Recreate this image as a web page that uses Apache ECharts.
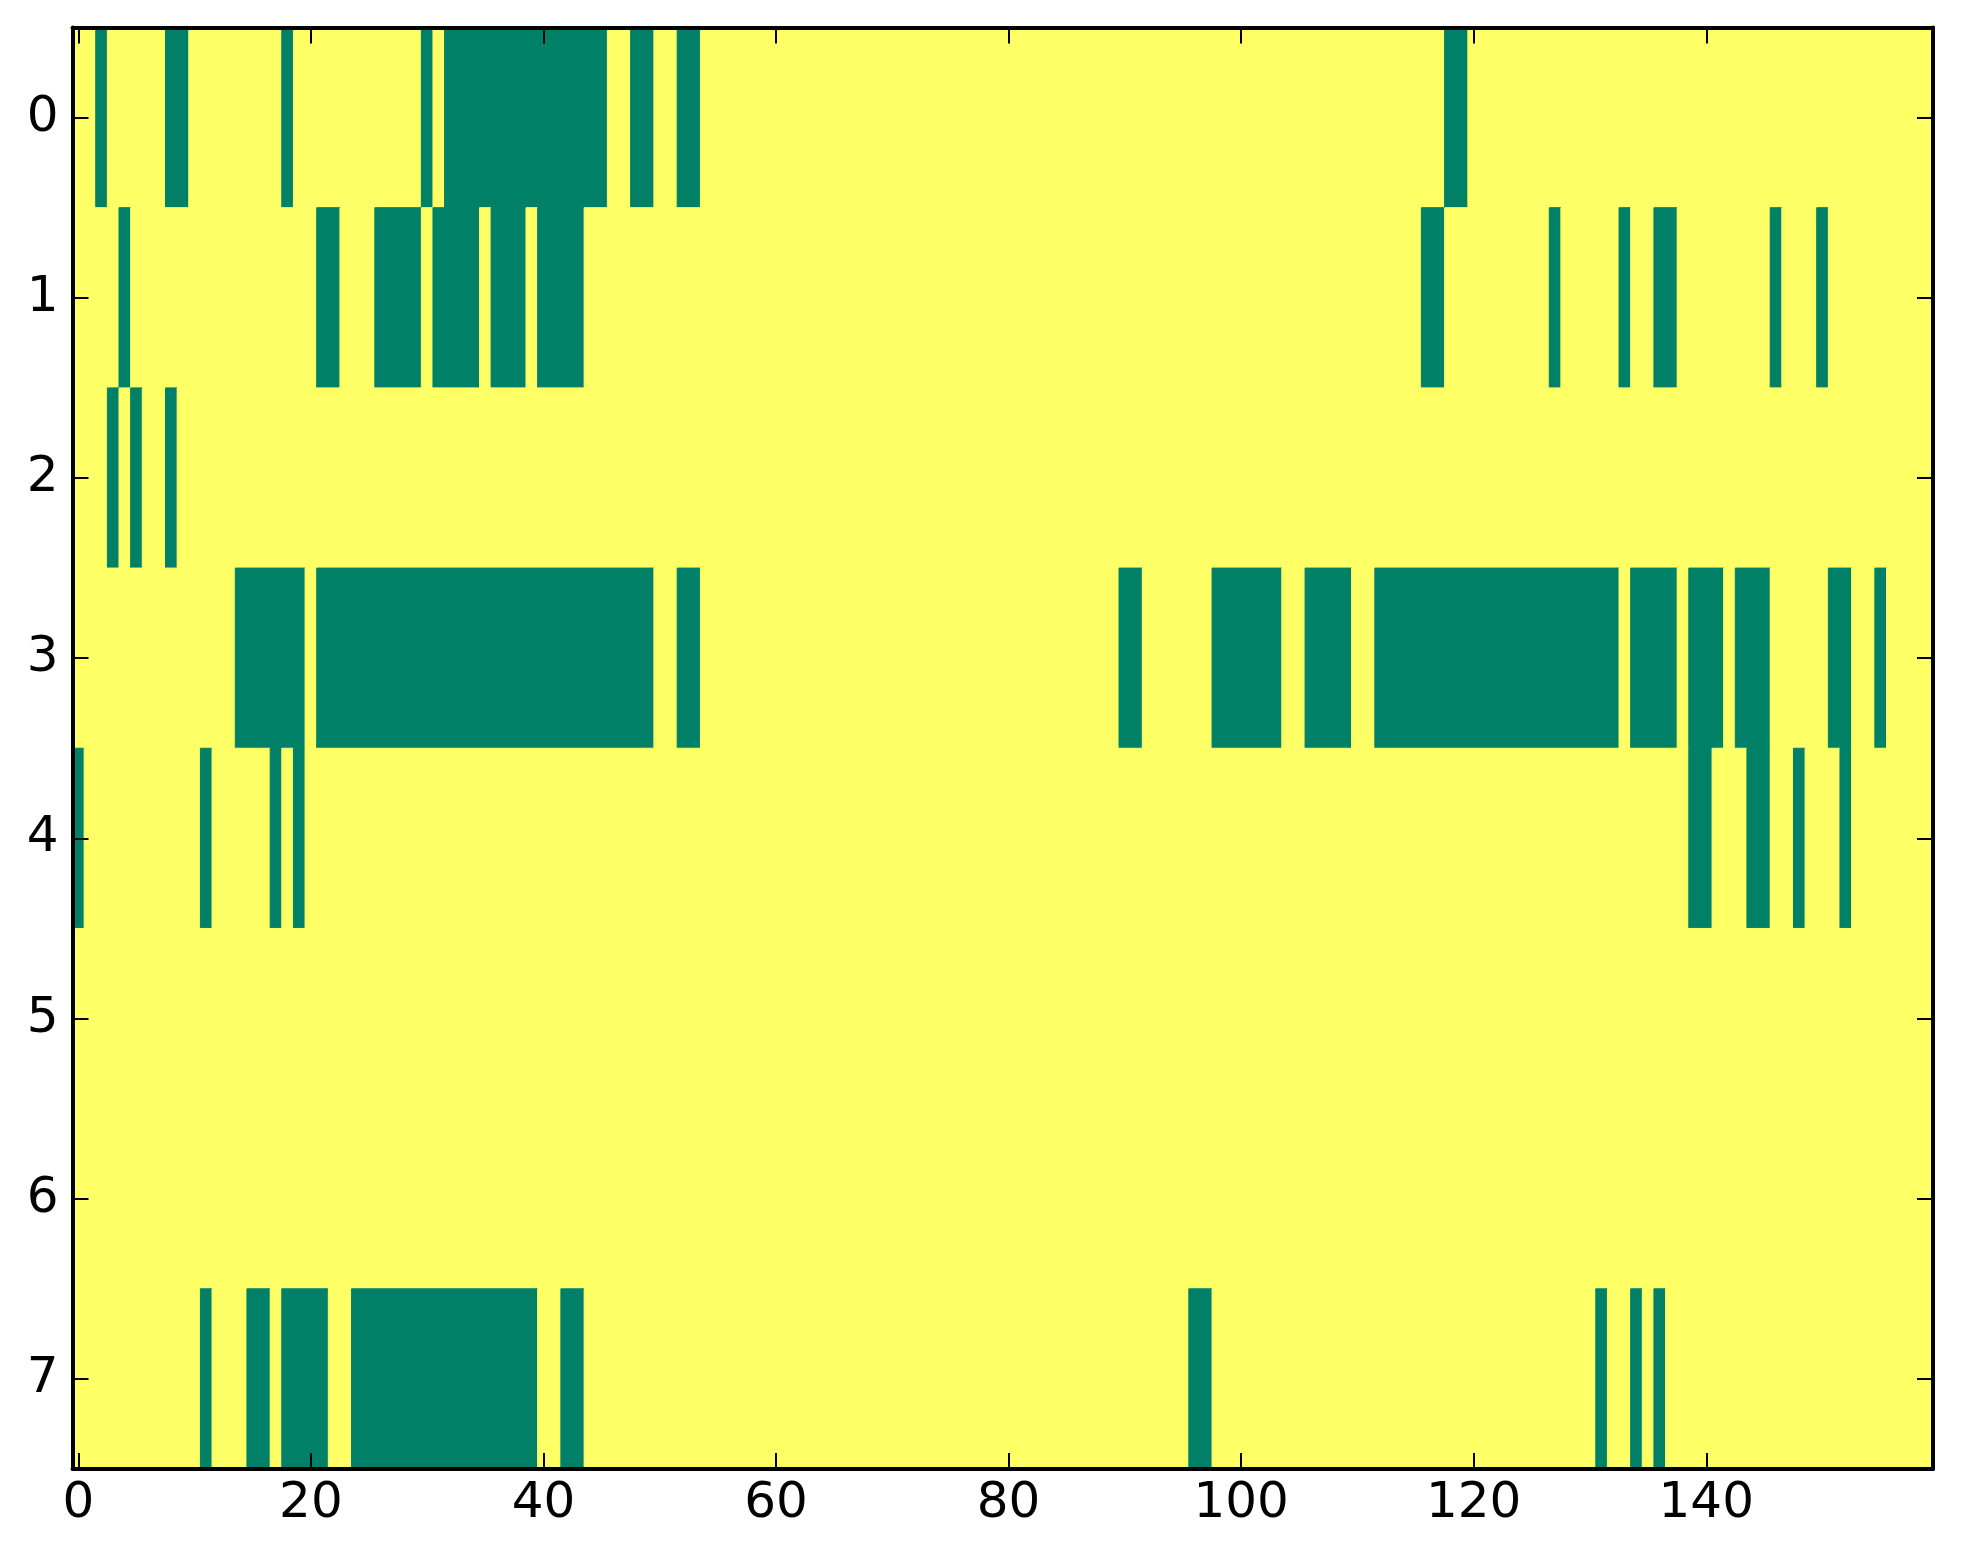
<!DOCTYPE html>
<html>
<head>
<meta charset="utf-8">
<script src="https://cdn.jsdelivr.net/npm/echarts@6/dist/echarts.min.js"></script>
<style>
html,body{margin:0;padding:0;background:#fff;}
#chart{width:1963px;height:1564px;}
</style>
</head>
<body>
<div id="chart"></div>
<script>
// ---- data ----
const nCols = 160;
const rowIds = [0, 1, 2, 3, 4, 5, 6, 7];
const xTicks = [0, 20, 40, 60, 80, 100, 120, 140];
const yTicks = [0, 1, 2, 3, 4, 5, 6, 7];

// columns whose cell value is 1 (green) in each row
const onRow0 = [2, 8, 9, 18, 30, 32, 33, 34, 35, 36, 37, 38, 39, 40, 41, 42, 43, 44, 45, 48, 49, 52, 53, 118, 119];
const onRow1 = [4, 21, 22, 26, 27, 28, 29, 31, 32, 33, 34, 36, 37, 38, 40, 41, 42, 43, 116, 117, 127, 133, 136, 137, 146, 150];
const onRow2 = [3, 5, 8];
const onRow3 = [14, 15, 16, 17, 18, 19,
  21, 22, 23, 24, 25, 26, 27, 28, 29, 30, 31, 32, 33, 34, 35, 36, 37, 38, 39, 40, 41, 42, 43, 44, 45, 46, 47, 48, 49,
  52, 53, 90, 91, 98, 99, 100, 101, 102, 103, 106, 107, 108, 109,
  112, 113, 114, 115, 116, 117, 118, 119, 120, 121, 122, 123, 124, 125, 126, 127, 128, 129, 130, 131, 132,
  134, 135, 136, 137, 139, 140, 141, 143, 144, 145, 151, 152, 155];
const onRow4 = [0, 11, 17, 19, 139, 140, 144, 145, 148, 152];
const onRow5 = [];
const onRow6 = [];
const onRow7 = [11, 15, 16, 18, 19, 20, 21,
  24, 25, 26, 27, 28, 29, 30, 31, 32, 33, 34, 35, 36, 37, 38, 39,
  42, 43, 96, 97, 131, 134, 136];

const onRows = [onRow0, onRow1, onRow2, onRow3, onRow4, onRow5, onRow6, onRow7];

// colours (matplotlib "summer" ends)
const GREEN = '#008066';
const YELLOW = '#ffff66';

// build matrix and merge into horizontal runs [x0, x1, row, value]
const runs = [];
rowIds.forEach(function (r) {
  const set = new Set(onRows[r]);
  let start = 0;
  let cur = set.has(0) ? 1 : 0;
  for (let c = 1; c <= nCols; c++) {
    const v = c < nCols ? (set.has(c) ? 1 : 0) : -1;
    if (v !== cur) {
      runs.push([start, c - 1, r, cur]);
      start = c;
      cur = v;
    }
  }
});

const chart = echarts.init(document.getElementById('chart'), null, {renderer: 'canvas'});

const axisLineStyle = {show: true, onZero: false, lineStyle: {color: '#000', width: 4}};
const labelFont = {fontSize: 50, fontFamily: 'DejaVu Sans', color: '#000'};

const option = {
  animation: false,
  backgroundColor: '#ffffff',
  grid: {left: 72.5, right: 30, top: 27.5, bottom: 95},
  xAxis: [
    {
      type: 'value', min: -0.5, max: nCols - 0.5, position: 'bottom', z: 10,
      axisLine: axisLineStyle,
      axisTick: {show: true, inside: true, length: 16, lineStyle: {color: '#000', width: 2}, customValues: xTicks},
      axisLabel: Object.assign({show: true, margin: 10, customValues: xTicks}, labelFont),
      splitLine: {show: false}
    },
    {
      type: 'value', min: -0.5, max: nCols - 0.5, position: 'top', z: 10,
      axisLine: axisLineStyle,
      axisTick: {show: true, inside: true, length: 16, lineStyle: {color: '#000', width: 2}, customValues: xTicks},
      axisLabel: {show: false},
      splitLine: {show: false}
    }
  ],
  yAxis: [
    {
      type: 'value', min: -0.5, max: rowIds.length - 0.5, inverse: true, position: 'left', z: 10,
      axisLine: axisLineStyle,
      axisTick: {show: true, inside: true, length: 16, lineStyle: {color: '#000', width: 2}, customValues: yTicks},
      axisLabel: Object.assign({show: true, margin: 14, customValues: yTicks}, labelFont),
      splitLine: {show: false}
    },
    {
      type: 'value', min: -0.5, max: rowIds.length - 0.5, inverse: true, position: 'right', z: 10,
      axisLine: axisLineStyle,
      axisTick: {show: true, inside: true, length: 16, lineStyle: {color: '#000', width: 2}, customValues: yTicks},
      axisLabel: {show: false},
      splitLine: {show: false}
    }
  ],
  series: [{
    type: 'custom',
    xAxisIndex: 0,
    yAxisIndex: 0,
    clip: true,
    encode: {x: [0, 1], y: 2},
    data: runs,
    renderItem: function (params, api) {
      const x0 = api.value(0), x1 = api.value(1), r = api.value(2), v = api.value(3);
      const p0 = api.coord([x0 - 0.5, r - 0.5]);
      const p1 = api.coord([x1 + 0.5, r + 0.5]);
      const color = v === 1 ? GREEN : YELLOW;
      return {
        type: 'rect',
        shape: {
          x: Math.min(p0[0], p1[0]),
          y: Math.min(p0[1], p1[1]),
          width: Math.abs(p1[0] - p0[0]),
          height: Math.abs(p1[1] - p0[1])
        },
        style: {fill: color, stroke: color, lineWidth: 1}
      };
    }
  }]
};

chart.setOption(option);
</script>
</body>
</html>
